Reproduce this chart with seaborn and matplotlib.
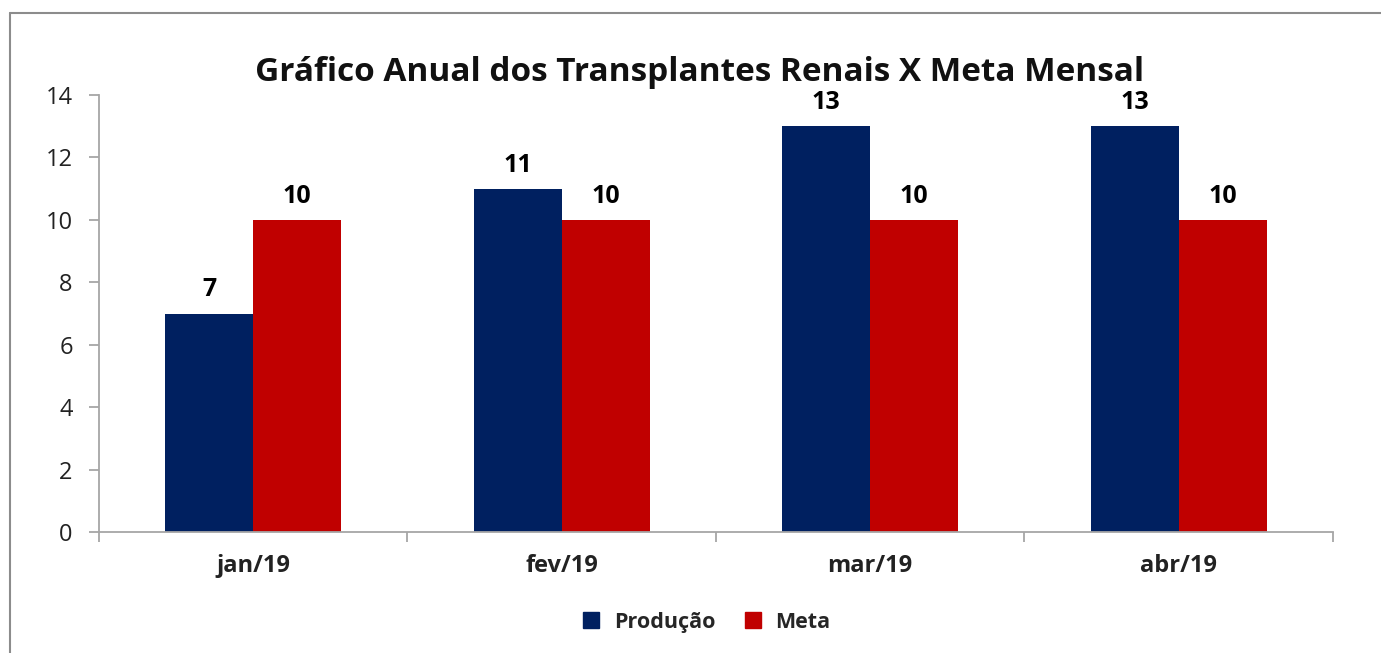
import numpy as np
import pandas as pd
import matplotlib.pyplot as plt
import seaborn as sns
from matplotlib.lines import Line2D

# Dados do gráfico
meses = ["jan/19", "fev/19", "mar/19", "abr/19"]
producao = [7, 11, 13, 13]
meta = [10, 10, 10, 10]
series = ["Produção", "Meta"]
cores = ["#002060", "#C00000"]

df = pd.DataFrame({
    "mes": meses * 2,
    "valor": producao + meta,
    "serie": [series[0]] * len(meses) + [series[1]] * len(meses),
})

sns.set_style("white")
plt.rcParams["font.family"] = ["Open Sans", "DejaVu Sans"]

fig = plt.figure(figsize=(13.81, 6.53), dpi=100)
ax = fig.add_axes([0.0717, 0.1853, 0.8935, 0.6692])

sns.barplot(data=df, x="mes", y="valor", hue="serie", palette=cores,
            width=0.57, saturation=1, linewidth=0, ax=ax, legend=True)

# rótulos de dados
for cont in ax.containers:
    ax.bar_label(cont, fmt="%d", padding=8, fontsize=18, fontweight="bold",
                 color="#000000")

ax.set_ylim(0, 14)
ax.set_xlim(-0.5, len(meses) - 0.5)
ax.set_yticks(np.arange(0, 15, 2))
ax.set_xlabel("")
ax.set_ylabel("")

gray = "#a6a6a6"
for s in ["top", "right"]:
    ax.spines[s].set_visible(False)
for s in ["left", "bottom"]:
    ax.spines[s].set_color(gray)
    ax.spines[s].set_linewidth(1.3)

ax.tick_params(axis="y", direction="out", length=7, width=1.3, color=gray,
               labelsize=17, pad=12, left=True, labelcolor="#222222")
ax.tick_params(axis="x", which="major", length=0, labelsize=17, pad=16,
               labelcolor="#222222")
for lab in ax.get_xticklabels():
    lab.set_fontweight("bold")
ax.set_xticks(np.arange(-0.5, len(meses), 1.0), minor=True)
ax.tick_params(axis="x", which="minor", direction="out", length=7, width=1.3,
               color=gray, bottom=True)

ax.set_title("Gráfico Anual dos Transplantes Renais X Meta Mensal",
             fontsize=24, fontweight="bold", pad=10, color="#111111", x=0.487)

ax.legend_.remove()
handles = [Line2D([], [], marker="s", linestyle="", markersize=11,
                  markerfacecolor=c, markeredgecolor=c) for c in cores]
fig.legend(handles, series, loc="center", bbox_to_anchor=(0.507, 0.047),
           ncol=2, frameon=False, prop={"weight": "bold", "size": 15.5},
           handletextpad=0.05, columnspacing=0.75)

# moldura do gráfico (topo e esquerda visíveis)
fig.add_artist(Line2D([10 / 1381, 1], [1 - 13 / 653, 1 - 13 / 653],
                      color="#8c8c8c", linewidth=1.5, transform=fig.transFigure))
fig.add_artist(Line2D([10 / 1381, 10 / 1381], [0, 1 - 13 / 653],
                      color="#8c8c8c", linewidth=1.5, transform=fig.transFigure))

fig.savefig("out.png", dpi=100)
